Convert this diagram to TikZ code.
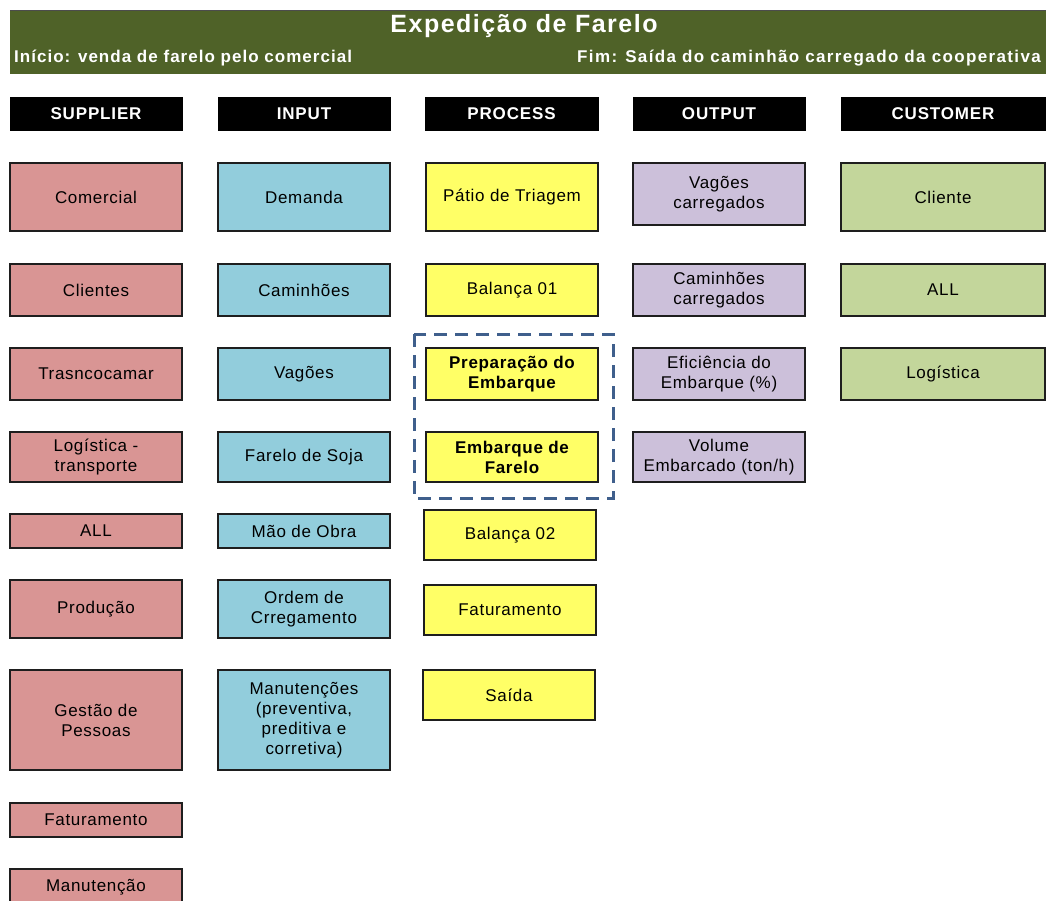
\documentclass[tikz,border=0pt]{standalone}
\usepackage{fontspec}
\setmainfont{Liberation Sans}
\definecolor{hdrgreen}{HTML}{4F6228}
\definecolor{supfill}{HTML}{D99594}
\definecolor{inpfill}{HTML}{92CDDC}
\definecolor{profill}{HTML}{FFFF66}
\definecolor{outfill}{HTML}{CCC0DA}
\definecolor{cusfill}{HTML}{C3D69B}
\definecolor{dashblue}{HTML}{3F5F8C}
\definecolor{edge}{HTML}{1E1E1E}
\tikzset{
  box/.style={draw=edge, line width=1.5pt, inner sep=2pt, align=center,
    font=\fontsize{17}{20}\selectfont\addfontfeatures{LetterSpace=4}, text=black},
  colhead/.style={fill=black, draw=black, minimum height=33pt, inner sep=0pt,
    text=white, font=\bfseries\fontsize{17}{19}\selectfont\addfontfeatures{LetterSpace=5}},
  supbox/.style={box, fill=supfill, minimum width=172pt},
  inpbox/.style={box, fill=inpfill, minimum width=172pt},
  probox/.style={box, fill=profill, minimum width=172pt},
  outbox/.style={box, fill=outfill, minimum width=172pt},
  cusbox/.style={box, fill=cusfill, minimum width=204pt},
  keystep/.style={font=\bfseries\fontsize{17}{20}\selectfont\addfontfeatures{LetterSpace=4}},
  banner/.style={text=white, inner sep=0pt,
    font=\bfseries\fontsize{17}{19}\selectfont\addfontfeatures{LetterSpace=6}},
}
\begin{document}
\begin{tikzpicture}[x=1pt, y=-1pt]
\useasboundingbox (0,0) rectangle (1046,900);

% title band
\fill[hdrgreen] (10,10) rectangle (1046,74);
\draw[black!70, line width=1pt] (10,10.5) -- (1046,10.5);
\node[text=white, font=\bfseries\fontsize{25}{28}\selectfont\addfontfeatures{LetterSpace=6}] (title) at (524,26) {Expedição de Farelo};
\node[banner, anchor=west] (start) at (14,58) {Início: venda de farelo pelo comercial};
\node[banner, anchor=east, font=\bfseries\fontsize{17}{19}\selectfont\addfontfeatures{LetterSpace=8}] (finish) at (1041,58) {Fim: Saída do caminhão carregado da cooperativa};

% column headings
\node[colhead, minimum width=172pt] (hs) at (96,113.5) {SUPPLIER};
\node[colhead, minimum width=172pt] (hi) at (304,113.5) {INPUT};
\node[colhead, minimum width=173pt] (hp) at (511.5,113.5) {PROCESS};
\node[colhead, minimum width=172pt] (ho) at (719,113.5) {OUTPUT};
\node[colhead, minimum width=204pt] (hc) at (943,113.5) {CUSTOMER};

% suppliers
\node[supbox, minimum height=68pt] (s1) at (96,197) {Comercial};
\node[supbox, minimum height=52pt] (s2) at (96,290) {Clientes};
\node[supbox, minimum height=52pt] (s3) at (96,374) {Trasncocamar};
\node[supbox, minimum height=50pt] (s4) at (96,457) {Logística -\\transporte};
\node[supbox, minimum height=34pt] (s5) at (96,531) {ALL};
\node[supbox, minimum height=58pt] (s6) at (96,609) {Produção};
\node[supbox, minimum height=100pt] (s7) at (96,720) {Gestão de\\Pessoas};
\node[supbox, minimum height=34pt] (s8) at (96,820) {Faturamento};
\node[supbox, minimum height=36pt] (s9) at (96,887) {Manutenção};

% inputs
\node[inpbox, minimum height=68pt] (i1) at (304,197) {Demanda};
\node[inpbox, minimum height=52pt] (i2) at (304,290) {Caminhões};
\node[inpbox, minimum height=52pt] (i3) at (304,374) {Vagões};
\node[inpbox, minimum height=50pt] (i4) at (304,457) {Farelo de Soja};
\node[inpbox, minimum height=34pt] (i5) at (304,531) {Mão de Obra};
\node[inpbox, minimum height=58pt] (i6) at (304,609) {Ordem de\\Crregamento};
\node[inpbox, minimum height=100pt] (i7) at (304,720) {Manutenções\\(preventiva,\\preditiva e\\corretiva)};

% process steps
\node[probox, minimum height=68pt] (p1) at (512,197) {Pátio de Triagem};
\node[probox, minimum height=52pt] (p2) at (512,290) {Balança 01};
\node[probox, keystep, minimum height=52pt] (p3) at (512,374) {Preparação do\\Embarque};
\node[probox, keystep, minimum height=50pt] (p4) at (512,457) {Embarque de\\Farelo};
\node[probox, minimum height=50pt] (p5) at (510,535) {Balança 02};
\node[probox, minimum height=50pt] (p6) at (510,610) {Faturamento};
\node[probox, minimum height=50pt] (p7) at (509,695) {Saída};

% critical steps frame
\draw[dashblue, line width=3pt, dash pattern=on 13pt off 8pt] (414,334) rectangle (613,498);

% outputs
\node[outbox, minimum height=62pt] (o1) at (719,194) {Vagões\\carregados};
\node[outbox, minimum height=52pt] (o2) at (719,290) {Caminhões\\carregados};
\node[outbox, minimum height=52pt] (o3) at (719,374) {Eficiência do\\Embarque (\%)};
\node[outbox, minimum height=50pt] (o4) at (719,457) {Volume\\Embarcado (ton/h)};

% customers
\node[cusbox, minimum height=68pt] (c1) at (943,197) {Cliente};
\node[cusbox, minimum height=52pt] (c2) at (943,290) {ALL};
\node[cusbox, minimum height=52pt] (c3) at (943,374) {Logística};
\end{tikzpicture}
\end{document}
